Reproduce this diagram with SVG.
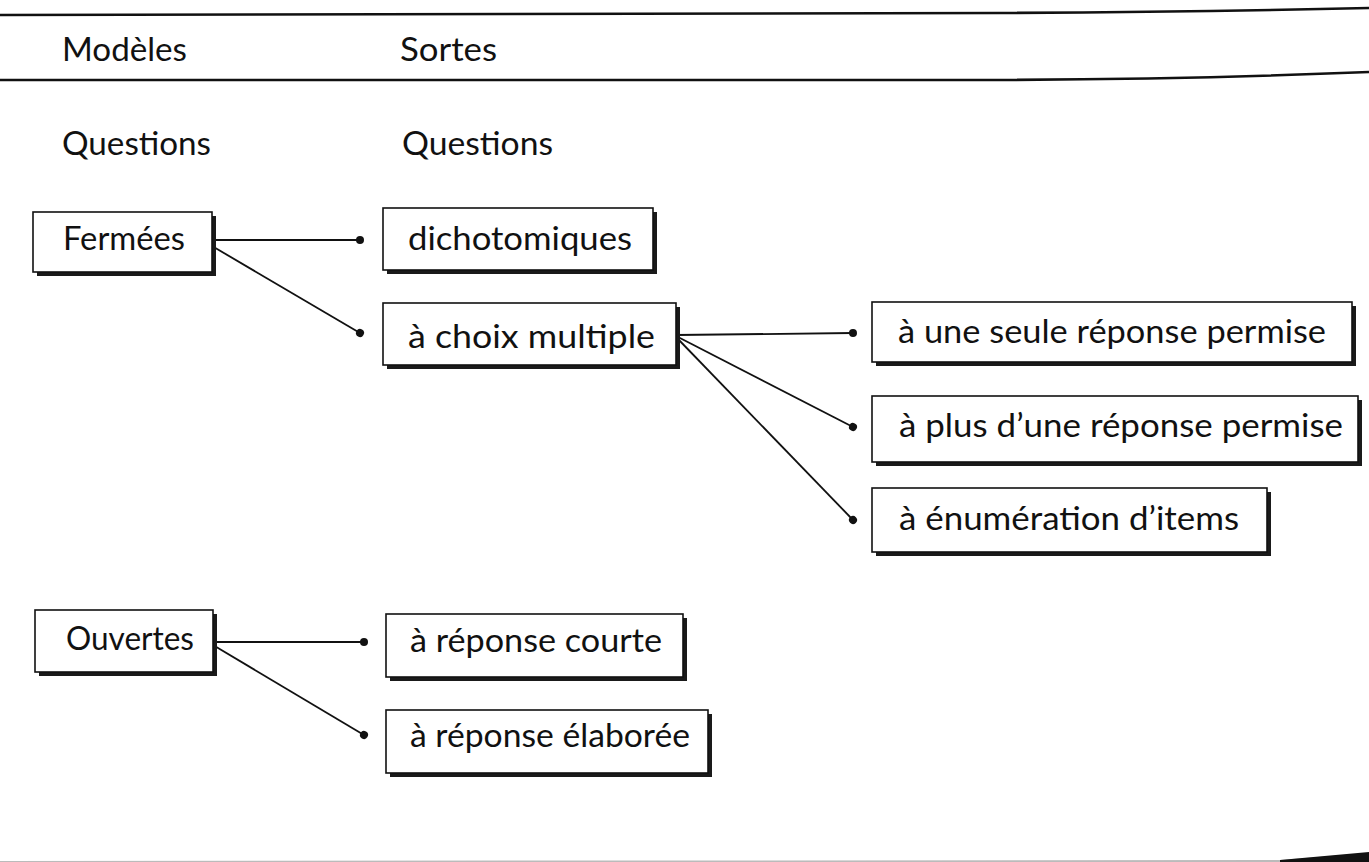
<svg xmlns="http://www.w3.org/2000/svg" width="1369" height="862" viewBox="0 0 1369 862">
<defs>
<marker id="dot" markerUnits="userSpaceOnUse" markerWidth="10" markerHeight="10" refX="5" refY="5" orient="auto"><circle cx="5" cy="5" r="4" fill="#111"/></marker>
</defs>
<style>
text{font-family:Lato,"Open Sans","Liberation Sans",sans-serif;font-size:33px;fill:#111}
.box{fill:#fff;stroke:#111;stroke-width:1.6}
.sh{fill:#1a1a1a}
.rule{fill:none;stroke:#111;stroke-width:2.6}
.conn line{stroke:#111;stroke-width:1.8;marker-end:url(#dot)}
</style>
<rect width="1369" height="862" fill="#fff"/>
<path class="rule" d="M0 15 L1000 13 Q1200 12 1369 8"/>
<path class="rule" d="M0 80 L1000 80 Q1200 79 1369 72"/>
<path d="M0 861 L1280 860 L1369 853 L1369 862 L0 862 Z" fill="#bbb"/>
<path d="M1280 860 L1369 852 L1369 862 L1280 862 Z" fill="#111"/>
<g id="headers">
<text x="62" y="61" textLength="125" lengthAdjust="spacingAndGlyphs">Modèles</text>
<text x="400" y="61" textLength="97" lengthAdjust="spacingAndGlyphs">Sortes</text>
<text x="62" y="155" textLength="149" lengthAdjust="spacingAndGlyphs">Questions</text>
<text x="402" y="155" textLength="151" lengthAdjust="spacingAndGlyphs">Questions</text>
</g>
<g class="conn" id="connectors">
<line x1="212" y1="240" x2="360" y2="240"/>
<line x1="212" y1="246" x2="360" y2="333"/>
<line x1="676" y1="335" x2="853" y2="333"/>
<line x1="678" y1="337" x2="853" y2="427"/>
<line x1="678" y1="339" x2="853" y2="520"/>
<line x1="213" y1="642" x2="364" y2="642"/>
<line x1="213" y1="645" x2="364" y2="735"/>
</g>
<g id="fermees"><rect class="sh" x="37" y="216" width="179" height="60"/><rect class="box" x="33" y="212" width="179" height="60"/><text x="63" y="250" textLength="122" lengthAdjust="spacingAndGlyphs">Fermées</text></g>
<g id="dichotomiques"><rect class="sh" x="387" y="212" width="270" height="62"/><rect class="box" x="383" y="208" width="270" height="62"/><text x="408" y="250" textLength="224" lengthAdjust="spacingAndGlyphs">dichotomiques</text></g>
<g id="choix"><rect class="sh" x="387" y="307" width="293" height="62"/><rect class="box" x="383" y="303" width="293" height="62"/><text x="408" y="348" textLength="247" lengthAdjust="spacingAndGlyphs">à choix multiple</text></g>
<g id="une-seule"><rect class="sh" x="876" y="306" width="480" height="60"/><rect class="box" x="872" y="302" width="480" height="60"/><text x="898" y="343" textLength="428" lengthAdjust="spacingAndGlyphs">à une seule réponse permise</text></g>
<g id="plus-une"><rect class="sh" x="876" y="400" width="486" height="66"/><rect class="box" x="872" y="396" width="486" height="66"/><text x="899" y="437" textLength="444" lengthAdjust="spacingAndGlyphs">à plus d’une réponse permise</text></g>
<g id="enumeration"><rect class="sh" x="876" y="492" width="395" height="64"/><rect class="box" x="872" y="488" width="395" height="64"/><text x="899" y="530" textLength="340" lengthAdjust="spacingAndGlyphs">à énumération d’items</text></g>
<g id="ouvertes"><rect class="sh" x="39" y="614" width="178" height="62"/><rect class="box" x="35" y="610" width="178" height="62"/><text x="66" y="650" textLength="128" lengthAdjust="spacingAndGlyphs">Ouvertes</text></g>
<g id="courte"><rect class="sh" x="390" y="618" width="297" height="63"/><rect class="box" x="386" y="614" width="297" height="63"/><text x="410" y="652" textLength="252" lengthAdjust="spacingAndGlyphs">à réponse courte</text></g>
<g id="elaboree"><rect class="sh" x="390" y="714" width="322" height="63"/><rect class="box" x="386" y="710" width="322" height="63"/><text x="410" y="747" textLength="280" lengthAdjust="spacingAndGlyphs">à réponse élaborée</text></g>
</svg>
